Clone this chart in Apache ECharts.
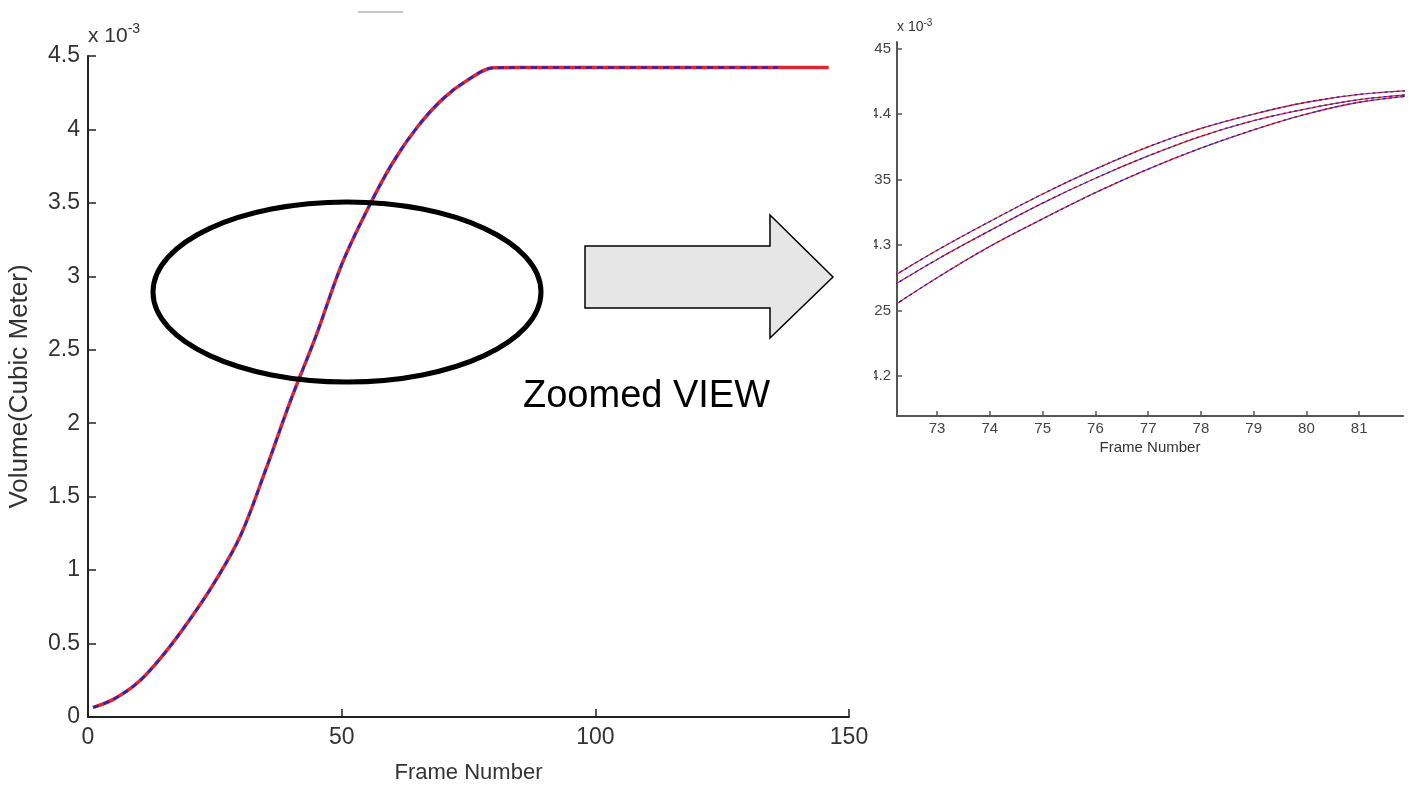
<!doctype html>
<html lang="en">
<head>
    <meta charset="utf-8">
    <title>Volume vs Frame Number</title>
    <script src="https://cdn.jsdelivr.net/npm/echarts@6.0.0/dist/echarts.min.js"></script>
    <style>
        html, body { margin: 0; padding: 0; background: #fff; }
        #main { width: 1417px; height: 788px; }
    </style>
</head>
<body>
    <div id="main"></div>
    <script>
        // volumes are in units of 1e-3 cubic meter
        // full view
        var framesRed  = [1, 5, 10, 15, 20, 25, 30, 35, 40, 45, 50, 55, 60, 65, 70, 75, 80, 85, 146];
        var framesBlue = [1, 5, 10, 15, 20, 25, 30, 35, 40, 45, 50, 55, 60, 65, 70, 75, 80, 85, 136];
        var volume = [0.065, 0.12, 0.24, 0.43, 0.66, 0.92, 1.23, 1.68, 2.16, 2.60, 3.08, 3.45, 3.77, 4.02, 4.21, 4.34, 4.42, 4.422, 4.422];

        // zoomed view, frames 72..82
        var zoomFrames = [72, 73, 74, 75, 76, 77, 78, 79, 80, 81, 82];
        var zoomTop = [4.272, 4.296, 4.318, 4.339, 4.358, 4.375, 4.389, 4.400, 4.409, 4.415, 4.418];
        var zoomMid = [4.265, 4.289, 4.311, 4.332, 4.351, 4.368, 4.383, 4.395, 4.404, 4.411, 4.415];
        var zoomLow = [4.249, 4.275, 4.299, 4.320, 4.340, 4.358, 4.374, 4.388, 4.400, 4.409, 4.414];

        var leftYTicks = [0, 0.5, 1, 1.5, 2, 2.5, 3, 3.5, 4, 4.5];
        var zoomXTicks = [73, 74, 75, 76, 77, 78, 79, 80, 81];
        var zoomYTicks = [4.2, 4.25, 4.3, 4.35, 4.4, 4.45];

        function pairs(xs, ys) {
            var out = [];
            for (var i = 0; i < xs.length; i++) out.push([xs[i], ys[i]]);
            return out;
        }

        var RED = '#e0262a';
        var BLUE = '#2424c8';
        var font = 'Liberation Sans, Arial, sans-serif';

        function redLine(data, xi, w) {
            return {
                type: 'line', xAxisIndex: xi, yAxisIndex: xi, data: data,
                smooth: 0.35, showSymbol: false, clip: true,
                lineStyle: { color: RED, width: w }, z: 2
            };
        }
        function blueLine(data, xi, w, dash) {
            return {
                type: 'line', xAxisIndex: xi, yAxisIndex: xi, data: data,
                smooth: 0.35, showSymbol: false, clip: true,
                lineStyle: { color: BLUE, width: w, type: dash }, z: 3
            };
        }

        var myChart = echarts.init(document.getElementById('main'));

        var option = {
            animation: false,
            backgroundColor: '#fff',
            textStyle: { fontFamily: font },
            grid: [
                { left: 88, top: 56, width: 761, height: 661, outerBoundsMode: 'none' },
                { left: 897, top: 42, width: 506, height: 374, outerBoundsMode: 'none' }
            ],
            xAxis: [{
                gridIndex: 0, type: 'value', min: 0, max: 150, interval: 50,
                name: 'Frame Number', nameLocation: 'middle', nameGap: 45,
                nameTextStyle: { fontSize: 22, color: '#333' },
                axisLine: { lineStyle: { color: '#222', width: 2 } },
                axisTick: { inside: true, length: 8, lineStyle: { color: '#222', width: 1.5 } },
                axisLabel: { fontSize: 23, color: '#333', margin: 9 },
                splitLine: { show: false }
            }, {
                gridIndex: 1, type: 'value', min: 72.24, max: 81.83,
                name: 'Frame Number', nameLocation: 'middle', nameGap: 24,
                nameTextStyle: { fontSize: 15, color: '#333' },
                axisLine: { lineStyle: { color: '#555', width: 2 } },
                axisTick: { inside: true, length: 5, customValues: zoomXTicks, lineStyle: { color: '#555', width: 1.5 } },
                axisLabel: { fontSize: 15, color: '#444', margin: 5, customValues: zoomXTicks },
                splitLine: { show: false }
            }],
            yAxis: [{
                gridIndex: 0, type: 'value', min: 0, max: 4.5, interval: 0.5,
                name: 'Volume(Cubic Meter)', nameLocation: 'middle', nameGap: 55, nameRotate: 90,
                nameTextStyle: { fontSize: 26, color: '#333' },
                axisLine: { lineStyle: { color: '#222', width: 2 } },
                axisTick: { inside: true, length: 8, lineStyle: { color: '#222', width: 1.5 } },
                axisLabel: { fontSize: 23, color: '#333', margin: 8,
                    formatter: function (v) { return leftYTicks.indexOf(v) >= 0 ? String(v) : ''; } },
                splitLine: { show: false }
            }, {
                gridIndex: 1, type: 'value', min: 4.1695, max: 4.455,
                axisLine: { lineStyle: { color: '#555', width: 2 } },
                axisTick: { inside: true, length: 5, customValues: zoomYTicks, lineStyle: { color: '#555', width: 1.5 } },
                axisLabel: { fontSize: 15, color: '#444', margin: 6, customValues: zoomYTicks },
                splitLine: { show: false }
            }],
            series: [
                redLine(pairs(framesRed, volume), 0, 3.5),
                blueLine(pairs(framesBlue, volume), 0, 2.5, [6, 5]),
                redLine(pairs(zoomFrames, zoomTop), 1, 1.3),
                redLine(pairs(zoomFrames, zoomMid), 1, 1.3),
                redLine(pairs(zoomFrames, zoomLow), 1, 1.3),
                blueLine(pairs(zoomFrames, zoomTop), 1, 1.3, [3, 3]),
                blueLine(pairs(zoomFrames, zoomMid), 1, 1.3, [3, 3]),
                blueLine(pairs(zoomFrames, zoomLow), 1, 1.3, [3, 3])
            ],
            graphic: [
                // x 10^-3 multipliers
                { type: 'text', left: 88, top: 22, z: 10,
                  style: { text: 'x 10{s|-3}', fill: '#333', font: '21px ' + font,
                           rich: { s: { fontSize: 14, verticalAlign: 'top', padding: [0, 0, 14, 0] } } } },
                { type: 'text', left: 897, top: 18, z: 10,
                  style: { text: 'x 10{s|-3}', fill: '#333', font: '14px ' + font,
                           rich: { s: { fontSize: 10, verticalAlign: 'top', padding: [0, 0, 9, 0] } } } },
                // cropped edge of the zoomed view
                { type: 'rect', shape: { x: 850, y: 30, width: 24, height: 370 }, style: { fill: '#fff' }, z: 20 },
                // faint legend stub
                { type: 'line', shape: { x1: 358, y1: 12, x2: 403, y2: 12 }, style: { stroke: '#c8c8c8', lineWidth: 2 }, z: 10 },
                // highlight ellipse
                { type: 'ellipse', shape: { cx: 347, cy: 292, rx: 194, ry: 90 },
                  style: { fill: null, stroke: '#000', lineWidth: 5 }, z: 10 },
                // block arrow
                { type: 'polygon', z: 10,
                  shape: { points: [[585, 246], [770, 246], [770, 215], [833, 277], [770, 338], [770, 308], [585, 308]] },
                  style: { fill: '#e6e6e6', stroke: '#000', lineWidth: 1.5 } },
                { type: 'text', left: 523, top: 378, z: 10,
                  style: { text: 'Zoomed VIEW', fill: '#000', font: '38px ' + font } }
            ]
        };

        myChart.setOption(option);
    </script>
</body>
</html>
